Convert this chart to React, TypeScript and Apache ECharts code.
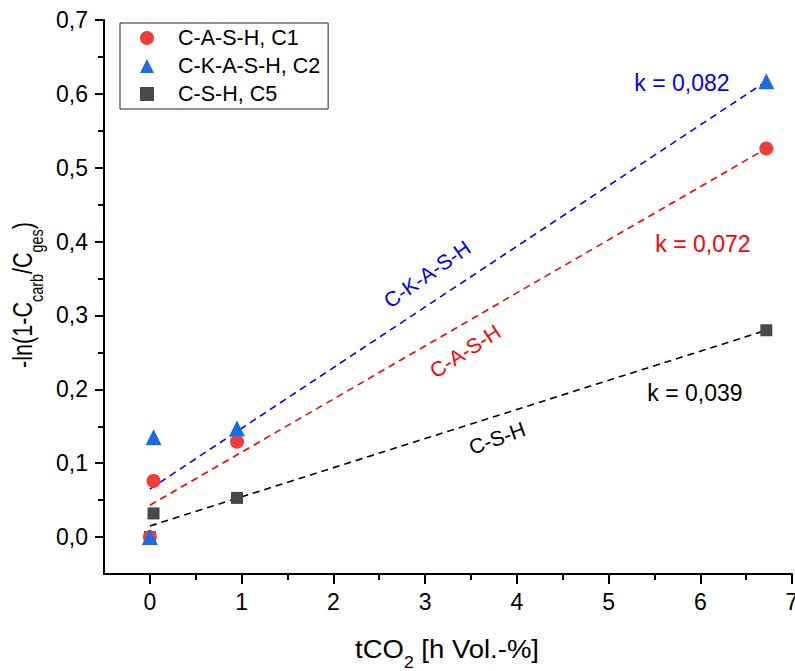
import React, { useEffect, useRef } from "react";
import * as echarts from "echarts";

const FONT = "'Liberation Sans', Arial, sans-serif";

// data
const xValues = [0, 0.04, 0.95, 6.72];
const casH = [0, 0.076, 0.129, 0.526];
const ckasH = [0, 0.135, 0.147, 0.617];
const csH = [0, 0.032, 0.053, 0.28];

const fitX = [0, 6.72];
const fitCASH = [0.043, 0.526];
const fitCKASH = [0.065, 0.617];
const fitCSH = [0.015, 0.28];

const xTicks = [0, 1, 2, 3, 4, 5, 6, 7];
const xMinorTicks = [0.5, 1.5, 2.5, 3.5, 4.5, 5.5, 6.5];
const yTicks = [0, 0.1, 0.2, 0.3, 0.4, 0.5, 0.6, 0.7];
const yMinorTicks = [0.05, 0.15, 0.25, 0.35, 0.45, 0.55, 0.65];

const seriesNames = ["C-A-S-H, C1", "C-K-A-S-H, C2", "C-S-H, C5"];
const kLabels = ["k = 0,072", "k = 0,082", "k = 0,039"];
const lineLabels = ["C-A-S-H", "C-K-A-S-H", "C-S-H"];

const RED = "#f23c3c";
const BLUE = "#1a6cdf";
const GRAY = "#484848";

const pairs = (xs: number[], ys: number[]) => xs.map((x, i) => [x, ys[i]]);

const axisCommon = {
  type: "value" as const,
  splitLine: { show: false },
};

function buildOption() {
  return {
    animation: false,
    backgroundColor: "#fff",
    textStyle: { fontFamily: FONT },
    grid: { left: 104, top: 20, right: 3, bottom: 97, outerBoundsMode: "none" },
    legend: {
      data: [
        { name: seriesNames[0], icon: "circle" },
        { name: seriesNames[1], icon: "triangle" },
        { name: seriesNames[2], icon: "rect" },
      ],
      orient: "vertical",
      left: 120,
      top: 23,
      padding: [4, 8, 4, 20],
      itemWidth: 14,
      itemHeight: 14,
      itemGap: 6,
      borderColor: "#222",
      borderWidth: 1,
      textStyle: { fontSize: 21.5, color: "#000", fontFamily: FONT, lineHeight: 22, padding: [0, 0, 0, 19] },
    },
    xAxis: [
      {
        ...axisCommon,
        min: -0.5,
        max: 7,
        position: "bottom",
        axisLine: { show: true, onZero: false, lineStyle: { color: "#000", width: 2 } },
        axisTick: { show: true, length: 10, customValues: xTicks, lineStyle: { color: "#000", width: 2 } },
        axisLabel: {
          customValues: xTicks,
          margin: 16,
          fontSize: 23,
          color: "#000",
          fontFamily: FONT,
          formatter: (v: number) => String(v),
        },
      },
      {
        ...axisCommon,
        min: -0.5,
        max: 7,
        position: "bottom",
        axisLine: { show: false, onZero: false },
        axisTick: { show: true, length: 6, customValues: xMinorTicks, lineStyle: { color: "#000", width: 2 } },
        axisLabel: { show: false },
      },
    ],
    yAxis: [
      {
        ...axisCommon,
        min: -0.05,
        max: 0.7,
        position: "left",
        axisLine: { show: true, onZero: false, lineStyle: { color: "#000", width: 2 } },
        axisTick: { show: true, length: 9, customValues: yTicks, lineStyle: { color: "#000", width: 2 } },
        axisLabel: {
          customValues: yTicks,
          margin: 16,
          fontSize: 23,
          color: "#000",
          fontFamily: FONT,
          formatter: (v: number) => v.toFixed(1).replace(".", ","),
        },
      },
      {
        ...axisCommon,
        min: -0.05,
        max: 0.7,
        position: "left",
        axisLine: { show: false, onZero: false },
        axisTick: { show: true, length: 6, customValues: yMinorTicks, lineStyle: { color: "#000", width: 2 } },
        axisLabel: { show: false },
      },
    ],
    series: [
      {
        type: "line",
        name: "fit C-S-H",
        data: pairs(fitX, fitCSH),
        showSymbol: false,
        z: 2,
        lineStyle: { color: "#000", width: 1.6, type: [7, 5] },
      },
      {
        type: "line",
        name: "fit C-A-S-H",
        data: pairs(fitX, fitCASH),
        showSymbol: false,
        z: 2,
        lineStyle: { color: "#ff0000", width: 1.6, type: [7, 5] },
      },
      {
        type: "line",
        name: "fit C-K-A-S-H",
        data: pairs(fitX, fitCKASH),
        showSymbol: false,
        z: 2,
        lineStyle: { color: "#0000ff", width: 1.6, type: [7, 5] },
      },
      {
        type: "scatter",
        name: seriesNames[2],
        data: pairs(xValues, csH),
        symbol: "rect",
        symbolSize: 12,
        z: 3,
        itemStyle: { color: GRAY, opacity: 1 },
      },
      {
        type: "scatter",
        name: seriesNames[0],
        data: pairs(xValues, casH),
        symbol: "circle",
        symbolSize: 14,
        z: 3,
        itemStyle: { color: RED, opacity: 1 },
      },
      {
        type: "scatter",
        name: seriesNames[1],
        data: pairs(xValues, ckasH),
        symbol: "triangle",
        symbolSize: 16,
        z: 3,
        itemStyle: { color: BLUE, opacity: 1 },
      },
    ],
    graphic: [
      {
        type: "text",
        x: 682,
        y: 83,
        style: { text: kLabels[1], fontSize: 23, fontFamily: FONT, fill: "#0000ff", align: "center", verticalAlign: "middle" },
      },
      {
        type: "text",
        x: 703,
        y: 244,
        style: { text: kLabels[0], fontSize: 23, fontFamily: FONT, fill: "#ff0000", align: "center", verticalAlign: "middle" },
      },
      {
        type: "text",
        x: 695,
        y: 393,
        style: { text: kLabels[2], fontSize: 23, fontFamily: FONT, fill: "#000", align: "center", verticalAlign: "middle" },
      },
      {
        type: "text",
        x: 427,
        y: 274,
        rotation: (35 * Math.PI) / 180,
        style: { text: lineLabels[1], fontSize: 21, fontFamily: FONT, fill: "#0000ff", align: "center", verticalAlign: "middle" },
      },
      {
        type: "text",
        x: 465,
        y: 351,
        rotation: (33 * Math.PI) / 180,
        style: { text: lineLabels[0], fontSize: 21, fontFamily: FONT, fill: "#ff0000", align: "center", verticalAlign: "middle" },
      },
      {
        type: "text",
        x: 497,
        y: 438,
        rotation: (20 * Math.PI) / 180,
        style: { text: lineLabels[2], fontSize: 21, fontFamily: FONT, fill: "#000", align: "center", verticalAlign: "middle" },
      },
      {
        type: "text",
        x: 447,
        y: 654,
        scaleX: 1.1,
        style: {
          text: "{a|tCO}{s|2}{a| [h Vol.-%]}",
          align: "center",
          verticalAlign: "middle",
          fill: "#000",
          rich: {
            a: { fontSize: 25, fontFamily: FONT, lineHeight: 26, verticalAlign: "top", fill: "#000" },
            s: { fontSize: 16, fontFamily: FONT, lineHeight: 34, verticalAlign: "bottom", fill: "#000" },
          },
        },
      },
      {
        type: "text",
        x: 27,
        y: 295,
        rotation: Math.PI / 2,
        scaleX: 0.8,
        style: {
          text: "{a|-ln(1-C}{s|carb}{a|/C}{s|ges}{a|)}",
          align: "center",
          verticalAlign: "middle",
          fill: "#000",
          rich: {
            a: { fontSize: 27, fontFamily: FONT, lineHeight: 27, verticalAlign: "top", fill: "#000" },
            s: { fontSize: 18, fontFamily: FONT, lineHeight: 36, verticalAlign: "bottom", fill: "#000" },
          },
        },
      },
    ],
  };
}

export default function App() {
  const ref = useRef<HTMLDivElement>(null);
  useEffect(() => {
    if (!ref.current) return;
    const chart = echarts.init(ref.current, null, { renderer: "svg" });
    chart.setOption(buildOption() as any);
    return () => chart.dispose();
  }, []);
  return (
    <div
      ref={ref}
      style={{ position: "fixed", left: 0, top: 0, width: 795, height: 671, background: "#fff" }}
    />
  );
}
